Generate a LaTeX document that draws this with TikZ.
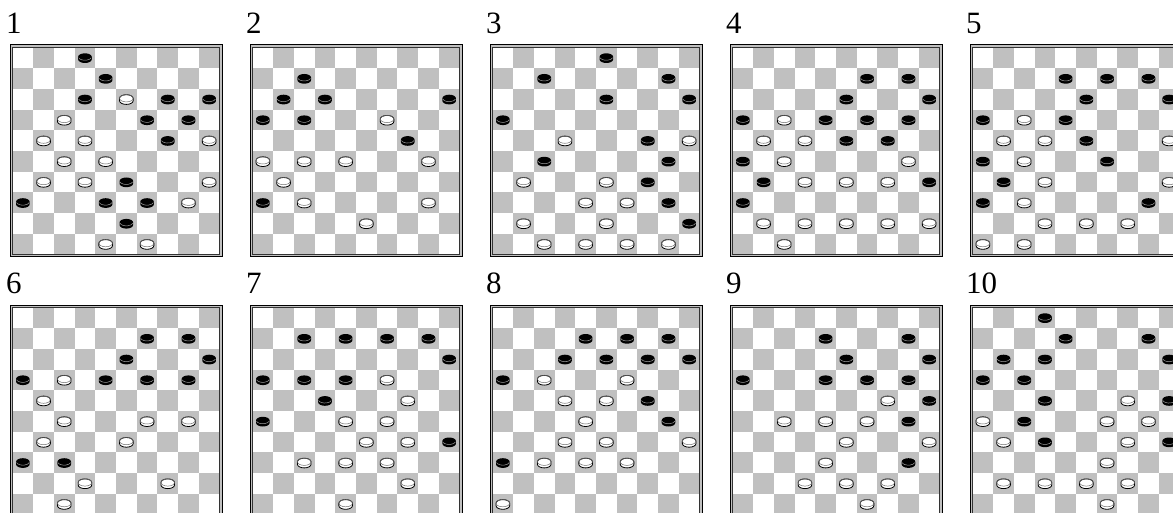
\documentclass[tikz,border=0pt]{standalone}
\usepackage{fontspec}
\setmainfont{Liberation Serif}

\definecolor{darksq}{RGB}{192,192,192}
\definecolor{rimgray}{RGB}{110,110,110}

\tikzset{
    boardnum/.style={anchor=base west, inner sep=0pt,
        font=\fontsize{31}{31}\selectfont},
    blackman/.pic={
        \fill[black] (-6.8,-1.25) -- (-6.8,1.25)
            arc[start angle=180, end angle=0, x radius=6.8, y radius=3.6]
            -- (6.8,-1.25)
            arc[start angle=0, end angle=-180, x radius=6.8, y radius=3.6]
            -- cycle;
        \draw[gray!75, line width=0.5pt] (-6.3,-0.4)
            arc[start angle=166, end angle=14, x radius=6.5, y radius=3.3];
    },
    whiteman/.pic={
        \filldraw[fill=white, draw=black, line width=0.8pt] (-6.8,-1.25) -- (-6.8,1.25)
            arc[start angle=180, end angle=0, x radius=6.8, y radius=3.6]
            -- (6.8,-1.25)
            arc[start angle=0, end angle=-180, x radius=6.8, y radius=3.6]
            -- cycle;
        \draw[rimgray, line width=0.5pt] (0,-1.25)
            ellipse[x radius=6.8, y radius=3.6];
    }
}

% Deska: cislo, x, y, cerne kameny, bile kameny
\newcommand{\drawboard}[5]{%
    \begin{scope}[shift={(#2,#3)}]
        % Ramecek
        \fill[darksq] (0,0) rectangle (212,212);
        \draw[line width=1pt] (0,0) rectangle (212,212);
        \fill[white] (2.5,2.5) rectangle (209.5,209.5);
        % Pole
        \foreach \r in {0,...,9}{
            \foreach \k in {0,...,4}{
                \pgfmathtruncatemacro{\cc}{2*\k+1-mod(\r,2)}
                \fill[darksq] (2.5+20.7*\cc,2.5+20.7*\r) rectangle ++(20.7,20.7);
            }
        }
        \draw[line width=0.5pt, gray!40!black] (2.3,2.3) rectangle (209.7,209.7);
        % Cislo diagramu
        \node[boardnum] (num#1) at (-4,-11.7) {#1};
        % Kameny
        \foreach \r/\cc in {#4}{
            \pic at (12.85+20.7*\cc,13.15+20.7*\r) {blackman};
        }
        \foreach \r/\cc in {#5}{
            \pic at (12.85+20.7*\cc,13.15+20.7*\r) {whiteman};
        }
    \end{scope}
}

\begin{document}
\begin{tikzpicture}[x=1pt,y=-1pt]

    \useasboundingbox (0,0) rectangle (1173,513);
    \clip (0,0) rectangle (1173,513);

    % Horni rada
    \drawboard{1}{10}{45}
        {0/3,1/4,2/3,2/7,2/9,3/6,3/8,4/7,6/5,7/0,7/4,7/6,8/5}
        {2/5,3/2,4/1,4/3,4/9,5/2,5/4,6/1,6/3,6/9,7/8,9/4,9/6}

    \drawboard{2}{250}{45}
        {1/2,2/1,2/3,2/9,3/0,3/2,4/7,7/0}
        {3/6,5/0,5/2,5/4,5/8,6/1,7/2,7/8,8/5}

    \drawboard{3}{490}{45}
        {0/5,1/2,1/8,2/5,2/9,3/0,4/7,5/2,5/8,6/7,7/8,8/9}
        {4/3,4/9,6/1,6/5,7/4,7/6,8/1,8/5,9/2,9/4,9/6,9/8}

    \drawboard{4}{730}{45}
        {1/6,1/8,2/5,2/9,3/0,3/4,3/6,3/8,4/5,4/7,5/0,6/1,6/9,7/0}
        {3/2,4/1,4/3,5/2,5/8,6/3,6/5,6/7,8/1,8/3,8/5,8/7,8/9,9/2}

    \drawboard{5}{970}{45}
        {1/4,1/6,1/8,2/5,2/9,3/0,3/4,4/5,5/0,5/6,6/1,7/0,7/8}
        {3/2,4/1,4/3,4/9,5/2,6/3,6/9,7/2,8/3,8/5,8/7,9/0,9/2}

    % Dolni rada
    \drawboard{6}{10}{305}
        {1/6,1/8,2/5,2/9,3/0,3/4,3/6,3/8,7/0,7/2}
        {3/2,4/1,5/2,5/6,5/8,6/1,6/5,8/3,8/7,9/2}

    \drawboard{7}{250}{305}
        {1/2,1/4,1/6,1/8,2/9,3/0,3/2,3/4,4/3,5/0,6/9}
        {3/6,4/7,5/4,5/6,6/5,6/7,7/2,7/4,7/6,8/7,9/4}

    \drawboard{8}{490}{305}
        {1/4,1/6,1/8,2/3,2/5,2/7,2/9,3/0,4/7,5/8,7/0}
        {3/2,3/6,4/3,4/5,5/4,6/3,6/5,6/9,7/2,7/4,7/6,9/0}

    \drawboard{9}{730}{305}
        {1/4,1/8,2/5,2/9,3/0,3/4,3/6,3/8,4/9,5/8,7/8}
        {4/7,5/2,5/4,5/6,6/5,6/9,7/4,8/3,8/5,8/7,9/6}

    \drawboard{10}{970}{305}
        {0/3,1/4,1/8,2/1,2/3,2/9,3/0,3/2,4/3,4/9,5/2,6/3,6/9}
        {4/7,5/0,5/6,5/8,6/1,6/7,7/6,8/1,8/3,8/5,8/7,9/6}

\end{tikzpicture}
\end{document}
